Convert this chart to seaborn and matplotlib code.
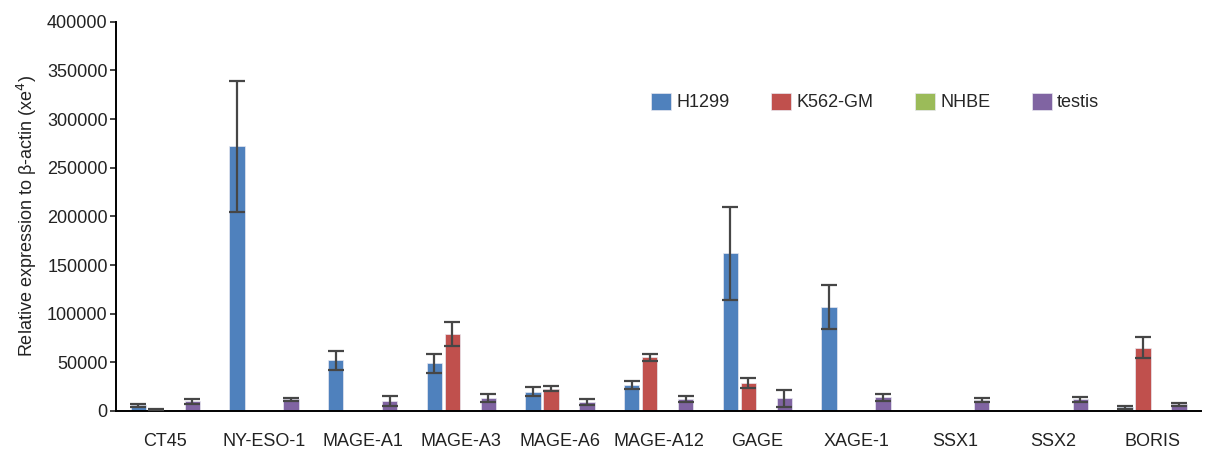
import numpy as np
import pandas as pd
import matplotlib
matplotlib.use('Agg')
import matplotlib.pyplot as plt
import seaborn as sns

# data
genes = ['CT45', 'NY-ESO-1', 'MAGE-A1', 'MAGE-A3', 'MAGE-A6', 'MAGE-A12',
         'GAGE', 'XAGE-1', 'SSX1', 'SSX2', 'BORIS']
cells = ['H1299', 'K562-GM', 'NHBE', 'testis']

h1299 = [6000, 272000, 52000, 49000, 20000, 27000, 162000, 107000, 0, 0, 4000]
h1299_err = [1500, 67000, 10000, 10000, 5000, 4000, 48000, 23000, 0, 0, 1500]
k562 = [1500, 0, 0, 79000, 23000, 55000, 29000, 1000, 500, 0, 65000]
k562_err = [600, 0, 0, 12000, 2500, 4000, 5000, 0, 0, 0, 11000]
nhbe = [0, 0, 0, 0, 0, 0, 0, 0, 0, 0, 0]
nhbe_err = [0, 0, 0, 0, 0, 0, 0, 0, 0, 0, 0]
testis = [10000, 12000, 10000, 13000, 9000, 12000, 13000, 14000, 11000, 12000, 7000]
testis_err = [2500, 1500, 5000, 4000, 3000, 3000, 9000, 3500, 2000, 2500, 1500]

colors = ['#4F81BD', '#C0504D', '#9BBB59', '#8064A2']

values = [h1299, k562, nhbe, testis]
errors = [h1299_err, k562_err, nhbe_err, testis_err]

df = pd.DataFrame({
    'gene': np.tile(genes, len(cells)),
    'cell': np.repeat(cells, len(genes)),
    'value': np.concatenate(values),
})

sns.set_style('white')
plt.rcParams['font.family'] = ['Liberation Sans', 'DejaVu Sans']

fig = plt.figure(figsize=(12.06, 4.51), dpi=100)
ax = fig.add_axes([0.0962, 0.0887, 0.9, 0.863])

sns.barplot(data=df, x='gene', y='value', hue='cell', order=genes, hue_order=cells,
            palette=colors, saturation=1, width=0.73, gap=0.15, errorbar=None,
            edgecolor='#e8e8f0', linewidth=0.5, ax=ax)

# error bars on each bar
for cont, err in zip(ax.containers, errors):
    for patch, e in zip(cont.patches, err):
        if e <= 0:
            continue
        xc = patch.get_x() + patch.get_width() / 2
        ax.errorbar(xc, patch.get_height(), yerr=e, color='#464646',
                    elinewidth=1.6, capsize=6, capthick=1.6, zorder=5)

ax.set_ylim(0, 400000)
ax.set_xlim(-0.5, 10.5)
ax.set_yticks(np.arange(0, 400001, 50000))
ax.set_ylabel('Relative expression to β-actin (xe$^4$)', fontsize=13, color='#222222',
              labelpad=6)
ax.set_xlabel('')
ax.tick_params(axis='y', labelsize=13, length=4, width=1.2, direction='out', left=True,
               colors='#222222', pad=2)
ax.tick_params(axis='x', labelsize=13, length=0, pad=16, colors='#222222')

for s in ['top', 'right']:
    ax.spines[s].set_visible(False)
for s in ['left', 'bottom']:
    ax.spines[s].set_color('black')
    ax.spines[s].set_linewidth(1.4)

ax.legend(loc='upper left', bbox_to_anchor=(0.478, 0.86), ncol=4, frameon=False,
          fontsize=13, handlelength=1.1, handleheight=1.1, handletextpad=0.3,
          columnspacing=2.3)

fig.savefig('out.png', dpi=100)
